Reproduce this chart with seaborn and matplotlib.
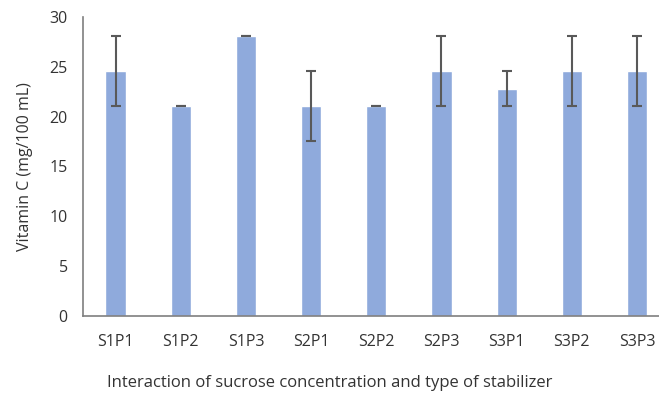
import matplotlib
matplotlib.use("Agg")
import matplotlib.pyplot as plt
import seaborn as sns

categories = ["S1P1", "S1P2", "S1P3", "S2P1", "S2P2", "S2P3", "S3P1", "S3P2", "S3P3"]
vitamin_c = [24.6, 21.1, 28.1, 21.1, 21.1, 24.6, 22.8, 24.6, 24.6]
errors = [3.5, 0.0, 0.0, 3.5, 0.0, 3.5, 1.75, 3.5, 3.5]

sns.set_style("white")
plt.rcParams["font.family"] = ["Open Sans", "DejaVu Sans"]

fig = plt.figure(figsize=(6.59, 3.94), dpi=100)
ax = fig.add_axes([83 / 659, 1 - 316 / 394, (669.6 - 83) / 659, (316 - 17) / 394])

sns.barplot(x=categories, y=vitamin_c, color="#8FAADC", saturation=1, width=0.31, ax=ax)
ax.errorbar(range(len(categories)), vitamin_c, yerr=errors, fmt="none",
            ecolor="#595959", elinewidth=1.5, capsize=3.6, capthick=1.5)

ax.set_ylim(0, 30)
ax.set_yticks([0, 5, 10, 15, 20, 25, 30])
ax.set_xlim(-0.5, len(categories) - 0.5)
ax.tick_params(axis="y", length=0, pad=11, labelsize=11.5, labelcolor="#333333")
ax.tick_params(axis="x", length=0, pad=13, labelsize=11.5, labelcolor="#333333")

for side in ["top", "right"]:
    ax.spines[side].set_visible(False)
for side in ["left", "bottom"]:
    ax.spines[side].set_color("#7f7f7f")
    ax.spines[side].set_linewidth(1.2)

ax.set_ylabel("Vitamin C (mg/100 mL)", fontsize=11.5, color="#333333", labelpad=12)
fig.text(330 / 659, 1 - 383 / 394, "Interaction of sucrose concentration and type of stabilizer",
         ha="center", va="center", fontsize=12, color="#333333")

fig.savefig("out.png", dpi=100)
